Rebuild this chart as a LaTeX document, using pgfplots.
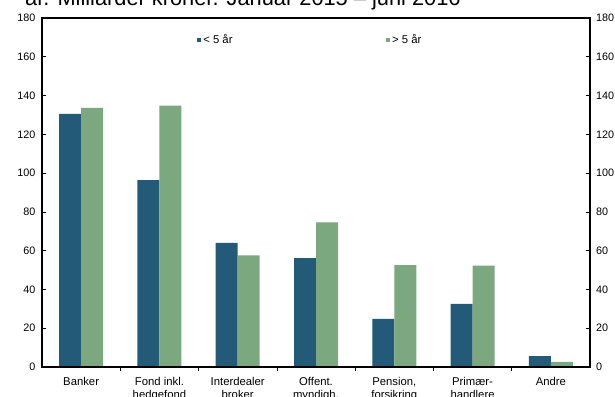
\documentclass[border=0pt]{standalone}
\usepackage{pgfplots}
\pgfplotsset{compat=1.18}
\usepackage{fontspec}
\setmainfont{Liberation Sans}
\definecolor{darkb}{HTML}{225A78}
\definecolor{lgreen}{HTML}{7BA87E}
\begin{document}
\begin{tikzpicture}[x=1pt,y=1pt]
\begin{axis}[
  at={(0,0)}, anchor=south west,
  scale only axis, width=548pt, height=349pt,
  ymin=0, ymax=180, ytick={0,20,...,180},
  xmin=-0.5, xmax=6.5,
  xtick={0,...,6},
  xticklabels={Banker,{Fond inkl.\\hedgefond},{Interdealer\\broker},{Offent.\\myndigh.},{Pension,\\forsikring},{Primær-\\handlere},Andre},
  xticklabel style={align=center, font=\fontsize{11.3}{12.8}\selectfont, yshift=-2.5pt},
  major x tick style={draw=none},
  minor xtick={0.5,1.5,...,5.5},
  minor tick length=4pt, major tick length=4pt,
  tick align=inside,
  xtick pos=bottom, ytick pos=left,
  yticklabel style={font=\fontsize{10.8}{12}\selectfont, xshift=-3pt},
  /pgf/number format/assume math mode=true,
  axis line style={line width=1.1pt},
  tick style={black, line width=0.6pt},
  ybar=0pt, bar width=22pt,
  legend style={at={(0.282,0.937)}, anchor=west, draw=none, fill=none, inner sep=0pt,
    font=\fontsize{11.3}{12}\selectfont, legend columns=2,
    /tikz/every even column/.append style={column sep=151pt}},
  legend cell align=left,
  legend image code/.code={\fill[#1] (0pt,-2.3pt) rectangle (4.6pt,2.3pt);},
]
\addplot[fill=darkb, draw=none] coordinates {(0,130.5) (1,96.4) (2,64) (3,56.2) (4,24.8) (5,32.5) (6,5.6)};
\addplot[fill=lgreen, draw=none] coordinates {(0,133.6) (1,134.8) (2,57.6) (3,74.6) (4,52.6) (5,52.3) (6,2.6)};
\legend{< 5 år, > 5 år}
\end{axis}
\begin{axis}[
  at={(0,0)}, anchor=south west,
  scale only axis, width=548pt, height=349pt,
  ymin=0, ymax=180, ytick={0,20,...,180},
  xmin=-0.5, xmax=6.5, xtick=\empty,
  ytick pos=right, yticklabel pos=right,
  tick align=inside, major tick length=4pt,
  yticklabel style={font=\fontsize{10.8}{12}\selectfont, xshift=2.5pt},
  /pgf/number format/assume math mode=true,
  axis line style={line width=1.1pt},
  tick style={black, line width=0.6pt},
]
\end{axis}
\node[anchor=base west, inner sep=0pt, font=\fontsize{21.8}{24}\selectfont] at (-17,361) {år. Milliarder kroner. Januar 2015 – juni 2016};
\pgfresetboundingbox
\useasboundingbox (-42,-29) rectangle (573,367);
\end{tikzpicture}
\end{document}
